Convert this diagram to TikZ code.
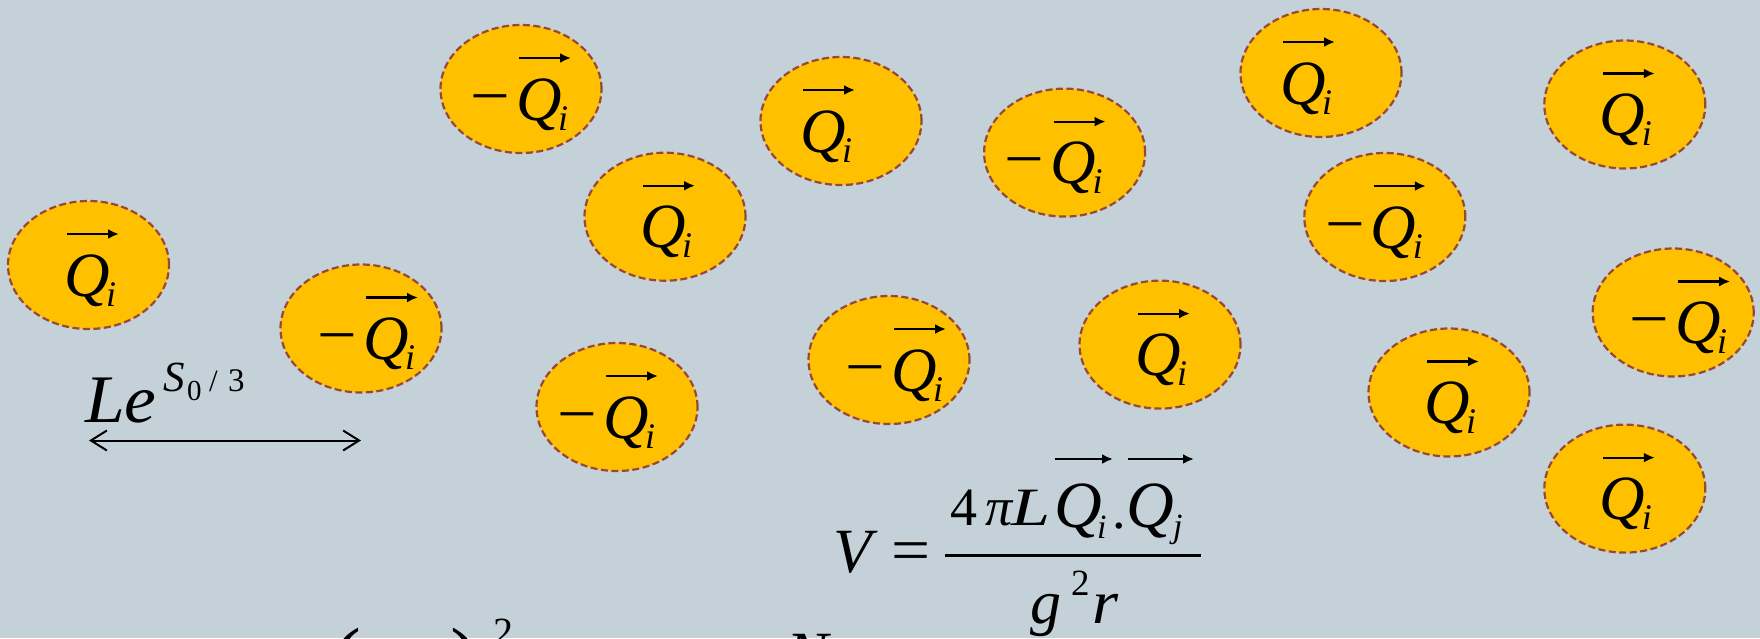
\documentclass[tikz,border=0pt]{standalone}
\usepackage{fontspec}
\usepackage{graphicx}
\setmainfont{Liberation Serif}
\usetikzlibrary{shapes.geometric,arrows.meta}
\definecolor{bg}{RGB}{197,209,216}
\definecolor{gold}{RGB}{255,192,0}
\definecolor{rim}{RGB}{152,72,54}
\newcommand\fsz[1]{\fontsize{#1}{#1}\selectfont}
\tikzset{
  ball/.style={ellipse, fill=gold, draw=rim, line width=2.2pt,
    dash pattern=on 7pt off 3.5pt, minimum width=161pt, minimum height=128pt, inner sep=0pt},
  txt/.style={inner sep=0pt, outer sep=0pt, anchor=base west},
  vecarr/.style={line width=2.2pt, -{Latex[length=11pt,width=10pt]}},
  span/.style={line width=2pt, {Straight Barb[length=16pt,width=20pt]}-{Straight Barb[length=16pt,width=20pt]}},
}
\begin{document}
\begin{tikzpicture}[x=1pt,y=-1pt]
\useasboundingbox (0,0) rectangle (1760,638);
\clip (0,0) rectangle (1760,638);
\fill[bg] (0,0) rectangle (1760,638);

% charged balls: number / sign / cx / cy / offset of Q
\foreach \n/\s/\x/\y/\o in {
  1/P/88.5/265/-21.5,
  2/N/361/328.5/5,
  3/N/521/89/-2,
  4/P/665/216.7/-22,
  5/N/617/407/-11,
  6/P/841/121/-38,
  7/N/889/360/5,
  8/N/1064.6/152.6/-11,
  9/P/1160/344.6/-22,
  10/P/1321/73/-38,
  11/N/1384.8/217/-11,
  12/P/1449/392.5/-22,
  13/P/1624.8/104.5/-22,
  14/N/1673.2/312.5/5,
  15/P/1624.8/488.6/-22}{
  \node[ball] (b\n) at (\x,\y) {};
  \node[txt] (b\n-q) at ({\x+(\o)-3},{\y+31}) {\fsz{63}\itshape Q};
  \node[txt] (b\n-i) at ({\x+(\o)+39},{\y+41}) {\fsz{36}\itshape i};
  \draw[vecarr] ({\x+(\o)},{\y-31}) -- ({\x+(\o)+52},{\y-31});
  \if N\s
    \node[inner sep=0pt, outer sep=0pt, anchor=base east] (b\n-m) at ({\x+(\o)-9},{\y+28}) {\fsz{64}\scalebox{1.1}[1]{−}};
  \fi
}

% length scale
\node[txt] (le) at (85,422.7) {\fsz{68}\scalebox{1.05}[1]{\itshape Le}};
\node[txt] (les) at (163,391) {\fsz{43}\itshape S};
\node[txt] (le0) at (187,400) {\fsz{29}0};
\node[txt] (lesl) at (209,391) {\fsz{31}/};
\node[txt] (le3) at (228,391) {\fsz{33}3};
\coordinate (la) at (89,440.5);
\coordinate (lb) at (361,440.5);
\draw[span] (la) -- (lb);

% potential formula
\node[txt] (fV) at (833,572) {\fsz{63}\itshape V};
\node[txt] (feq) at (891,571) {\fsz{63}\scalebox{1.1}[1]{=}};
\draw[line width=3pt] (945,555) coordinate (bar1) -- (1201,555) coordinate (bar2);
\node[txt] (n4) at (950,525) {\fsz{54}4};
\node[txt] (npi) at (985,525) {\fsz{54}\itshape π};
\node[txt] (nL) at (1011,525) {\fsz{54}\scalebox{1.3}[1]{\itshape L}};
\node[txt] (nQ1) at (1054,527) {\fsz{66}\itshape Q};
\node[txt] (ni) at (1097,538) {\fsz{34}\itshape i};
\node[txt] (ndot) at (1112,528) {\fsz{54}.};
\node[txt] (nQ2) at (1126,527) {\fsz{66}\itshape Q};
\node[txt] (nj) at (1173,537) {\fsz{34}\itshape j};
\draw[vecarr] (1055,459) -- (1113,459);
\draw[vecarr] (1128,459) -- (1194,459);
\node[txt] (dg) at (1030,623) {\fsz{62}\itshape g};
\node[txt] (d2) at (1071,595) {\fsz{37}2};
\node[txt] (dr) at (1092,623) {\fsz{62}\scalebox{1.08}[1]{\itshape r}};

% cut-off line at the bottom edge
\node[inner sep=0pt, anchor=north west] (bl) at (331,628) {\fsz{90}(};
\node[inner sep=0pt, anchor=north west] (br) at (450,628) {\fsz{90})};
\node[inner sep=0pt, anchor=north west] (b2) at (493,619) {\fsz{40}2};
\node[inner sep=0pt, anchor=north west] (bN) at (786,634) {\fsz{63}\itshape N};
\end{tikzpicture}
\end{document}
